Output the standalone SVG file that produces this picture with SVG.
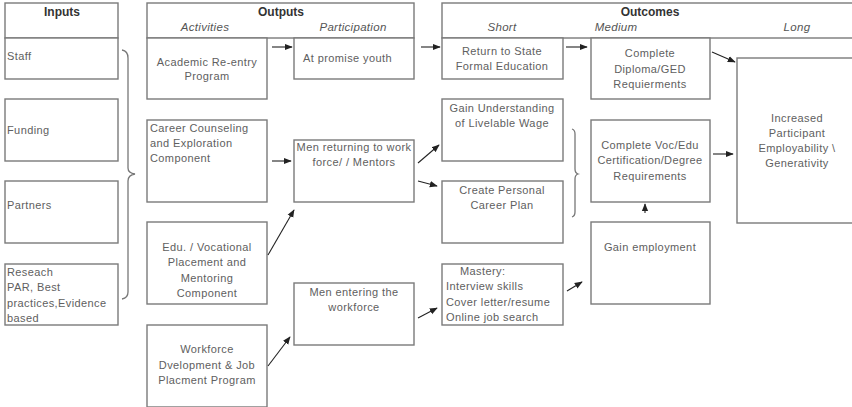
<svg xmlns="http://www.w3.org/2000/svg" width="852" height="407" viewBox="0 0 852 407">
<defs>
<marker id="ah" viewBox="0 0 10 10" refX="9" refY="5" markerWidth="8" markerHeight="8" orient="auto" markerUnits="userSpaceOnUse">
<path d="M0,1 L10,5 L0,9 z" fill="#222"/>
</marker>
<style>
.box{fill:#fff;stroke:#7a7a7a;stroke-width:1.4}
.hdr{fill:none;stroke:#7a7a7a;stroke-width:1.4}
.t{font-family:"Liberation Sans",Arial,sans-serif;font-size:11px;letter-spacing:0.4px;fill:#606060}
.c{text-anchor:middle}
.h{font-family:"Liberation Sans",Arial,sans-serif;font-size:12px;font-weight:bold;fill:#333;text-anchor:middle}
.i{font-family:"Liberation Sans",Arial,sans-serif;font-size:11.5px;font-style:italic;letter-spacing:0.3px;fill:#555;text-anchor:middle}
.a{fill:none;stroke:#222;stroke-width:1.1;marker-end:url(#ah)}
.br{fill:none;stroke:#777;stroke-width:1.3}
</style>
</defs>
<rect width="852" height="407" fill="#fff"/>

<g id="header-inputs">
<rect class="hdr" x="5" y="3" width="113" height="35"/>
<text class="h" x="62" y="16">Inputs</text>
</g>
<g id="header-outputs">
<rect class="hdr" x="147" y="3" width="267" height="35"/>
<text class="h" x="281" y="16">Outputs</text>
<text class="i" x="205" y="31">Activities</text>
<text class="i" x="353" y="31">Participation</text>
</g>
<g id="header-outcomes">
<rect class="hdr" x="442" y="3" width="420" height="35"/>
<text class="h" x="650" y="16">Outcomes</text>
<text class="i" x="502" y="31">Short</text>
<text class="i" x="616" y="31">Medium</text>
<text class="i" x="797" y="31">Long</text>
</g>

<g id="staff"><rect class="box" x="5" y="38" width="113" height="41"/><text class="t" x="7" y="60">Staff</text></g>
<g id="funding"><rect class="box" x="5" y="99" width="113" height="62"/><text class="t" x="7" y="134">Funding</text></g>
<g id="partners"><rect class="box" x="5" y="181" width="113" height="62"/><text class="t" x="7" y="209">Partners</text></g>
<g id="research"><rect class="box" x="5" y="264" width="113" height="61"/>
<text class="t" x="7" y="276">Reseach</text><text class="t" x="7" y="291">PAR, Best</text><text class="t" x="7" y="307">practices,Evidence</text><text class="t" x="7" y="322">based</text></g>

<g id="academic"><rect class="box" x="147" y="38" width="120" height="61"/>
<text class="t c" x="207" y="66">Academic Re-entry</text><text class="t c" x="207" y="80">Program</text></g>
<g id="career-counseling"><rect class="box" x="147" y="120" width="120" height="82"/>
<text class="t" x="150" y="132">Career Counseling</text><text class="t" x="150" y="147">and Exploration</text><text class="t" x="150" y="162">Component</text></g>
<g id="edu-vocational"><rect class="box" x="147" y="222" width="120" height="82"/>
<text class="t c" x="207" y="251">Edu. / Vocational</text><text class="t c" x="207" y="266">Placement and</text><text class="t c" x="207" y="282">Mentoring</text><text class="t c" x="207" y="297">Component</text></g>
<g id="workforce-dev"><rect class="box" x="147" y="325" width="120" height="82"/>
<text class="t c" x="207" y="353">Workforce</text><text class="t c" x="207" y="369">Dvelopment &amp; Job</text><text class="t c" x="207" y="384">Placment Program</text></g>

<g id="at-promise"><rect class="box" x="294" y="38" width="120" height="41"/>
<text class="t" x="303" y="62">At promise youth</text></g>
<g id="men-returning"><rect class="box" x="294" y="140" width="120" height="62"/>
<text class="t c" x="354" y="151">Men returning to work</text><text class="t c" x="354" y="166">force/ / Mentors</text></g>
<g id="men-entering"><rect class="box" x="294" y="283" width="120" height="62"/>
<text class="t c" x="354" y="296">Men entering the</text><text class="t c" x="354" y="311">workforce</text></g>

<g id="return-state"><rect class="box" x="442" y="38" width="121" height="41"/>
<text class="t c" x="502" y="55">Return to State</text><text class="t c" x="502" y="70">Formal Education</text></g>
<g id="gain-understanding"><rect class="box" x="442" y="99" width="121" height="62"/>
<text class="t c" x="502" y="112">Gain Understanding</text><text class="t c" x="502" y="127">of Livelable Wage</text></g>
<g id="create-plan"><rect class="box" x="442" y="181" width="121" height="62"/>
<text class="t c" x="502" y="194">Create Personal</text><text class="t c" x="502" y="209">Career Plan</text></g>
<g id="mastery"><rect class="box" x="442" y="264" width="121" height="61"/>
<text class="t" x="460" y="275">Mastery:</text><text class="t" x="446" y="290">Interview skills</text><text class="t" x="446" y="306">Cover letter/resume</text><text class="t" x="446" y="321">Online job search</text></g>

<g id="complete-diploma"><rect class="box" x="591" y="38" width="119" height="61"/>
<text class="t c" x="650" y="57">Complete</text><text class="t c" x="650" y="73">Diploma/GED</text><text class="t c" x="650" y="88">Requierments</text></g>
<g id="complete-voc"><rect class="box" x="591" y="120" width="119" height="82"/>
<text class="t c" x="650" y="149">Complete Voc/Edu</text><text class="t c" x="650" y="164">Certification/Degree</text><text class="t c" x="650" y="180">Requirements</text></g>
<g id="gain-employment"><rect class="box" x="591" y="222" width="119" height="82"/>
<text class="t c" x="650" y="251">Gain employment</text></g>

<g id="increased"><rect class="box" x="737" y="58" width="130" height="165"/>
<text class="t c" x="797" y="122">Increased</text><text class="t c" x="797" y="137">Participant</text><text class="t c" x="797" y="152">Employability \</text><text class="t c" x="797" y="167">Generativity</text></g>

<g id="connectors">
<path class="br" d="M122,50 Q128,51 128,58 L128,168 Q128,173 135,174 Q128,175 128,181 L128,292 Q128,298 122,299"/>
<path class="br" d="M572,129 Q575,130 575,134 L575,169 Q575,173 578,174 Q575,175 575,179 L575,212 Q575,216 572,217"/>
<path class="a" d="M272,47 L292,47"/>
<path class="a" d="M421,47 L440,47"/>
<path class="a" d="M566,47 L587,47"/>
<path class="a" d="M712,52 L735,62"/>
<path class="a" d="M713,154 L733,154"/>
<path class="a" d="M645,213 L645,204"/>
<path class="a" d="M272,161 L291,161"/>
<path class="a" d="M268,255 L294,210"/>
<path class="a" d="M268,366 L290,337"/>
<path class="a" d="M418,163 L439,145"/>
<path class="a" d="M418,181 L437,186"/>
<path class="a" d="M418,318 L437,308"/>
<path class="a" d="M567,291 L582,282"/>
</g>
</svg>
